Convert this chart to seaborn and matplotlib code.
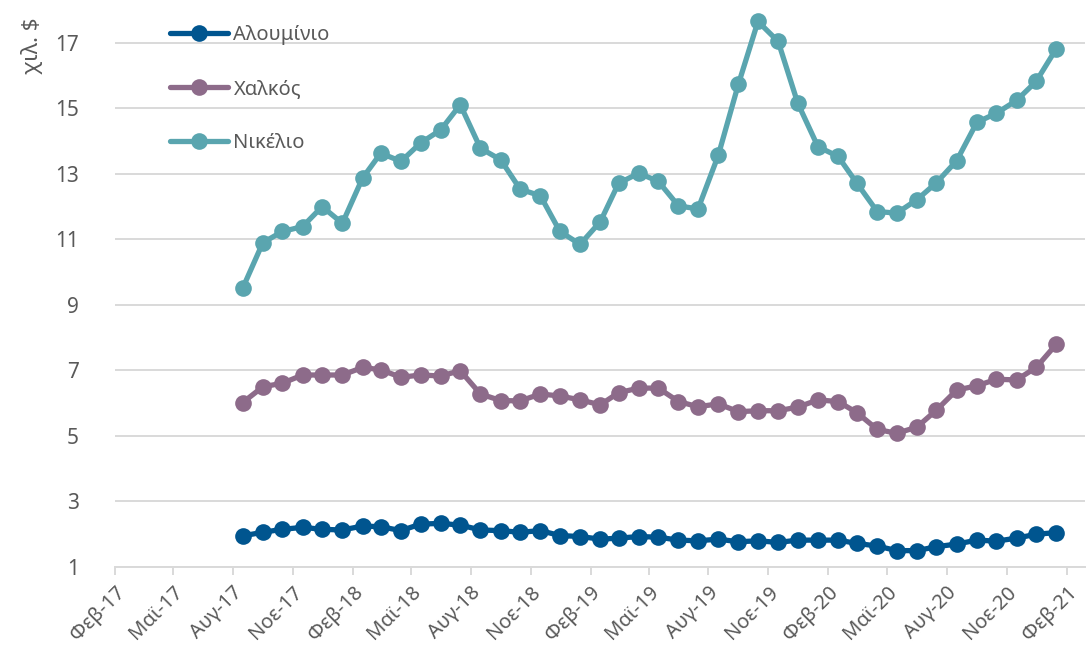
import matplotlib
matplotlib.use("Agg")
import matplotlib.pyplot as plt
import seaborn as sns
import pandas as pd

# --- data (thousand $ per tonne, monthly, Aug-17 .. Jan-21) ---
start_month = "2017-08-01"
aluminium = [1.95, 2.06, 2.15, 2.21, 2.15, 2.13, 2.25, 2.23, 2.11, 2.31, 2.33, 2.28,
             2.13, 2.11, 2.06, 2.11, 1.96, 1.93, 1.85, 1.88, 1.93, 1.91, 1.82, 1.80,
             1.85, 1.77, 1.80, 1.75, 1.82, 1.82, 1.82, 1.72, 1.64, 1.50, 1.50, 1.62,
             1.70, 1.82, 1.79, 1.88, 2.00, 2.05]
copper = [6.02, 6.50, 6.61, 6.86, 6.86, 6.86, 7.09, 7.02, 6.79, 6.86, 6.83, 6.99,
          6.28, 6.08, 6.07, 6.28, 6.22, 6.10, 5.95, 6.32, 6.46, 6.46, 6.05, 5.89,
          5.98, 5.74, 5.77, 5.77, 5.88, 6.10, 6.05, 5.71, 5.20, 5.08, 5.27, 5.79,
          6.40, 6.53, 6.73, 6.71, 7.09, 7.80]
nickel = [9.51, 10.90, 11.24, 11.39, 12.00, 11.49, 12.87, 13.63, 13.38, 13.94, 14.34, 15.11,
          13.78, 13.43, 12.53, 12.33, 11.24, 10.85, 11.54, 12.71, 13.02, 12.77, 12.02, 11.93,
          13.56, 15.74, 17.65, 17.04, 15.16, 13.83, 13.53, 12.71, 11.85, 11.80, 12.21, 12.73,
          13.40, 14.57, 14.85, 15.24, 15.82, 16.82]
series_names = ["Αλουμίνιο", "Χαλκός", "Νικέλιο"]
colors = ["#00558F", "#8D6B8A", "#5AA5AF"]

tick_labels = ["Φεβ-17", "Μαϊ-17", "Αυγ-17", "Νοε-17",
               "Φεβ-18", "Μαϊ-18", "Αυγ-18", "Νοε-18",
               "Φεβ-19", "Μαϊ-19", "Αυγ-19", "Νοε-19",
               "Φεβ-20", "Μαϊ-20", "Αυγ-20", "Νοε-20", "Φεβ-21"]
y_ticks = [1, 3, 5, 7, 9, 11, 13, 15, 17]

# points sit in the middle of each month slot, like Excel's date axis
dates = pd.date_range(start_month, periods=len(nickel), freq="MS") + pd.Timedelta(days=15)
df = pd.DataFrame({
    "date": list(dates) * 3,
    "value": aluminium + copper + nickel,
    "metal": sum([[n] * len(dates) for n in series_names], []),
})

sns.set_theme(style="white")
plt.rcParams["font.family"] = ["Noto Sans", "DejaVu Sans"]
text_color = "#595959"

fig = plt.figure(figsize=(10.87, 6.55), dpi=100)
ax = fig.add_axes([115 / 1087, 88 / 655, 970 / 1087, 557 / 655])

sns.lineplot(data=df, x="date", y="value", hue="metal", hue_order=series_names,
             palette=colors, marker="o", markersize=12, markeredgewidth=0,
             linewidth=3.8, ax=ax)

# axes
ax.set_xlim(pd.Timestamp("2017-02-01"), pd.Timestamp("2021-03-01"))
ax.set_ylim(1, 18)
ax.set_xticks(pd.date_range("2017-02-01", "2021-02-01", freq="3MS"))
ax.set_xticklabels(tick_labels, rotation=45, ha="right", va="top",
                   rotation_mode="anchor")
ax.set_yticks(y_ticks)
ax.set_yticklabels([str(v) for v in y_ticks])
ax.set_xlabel("")
ax.set_ylabel("")
ax.grid(axis="y", color="#D9D9D9", linewidth=1.4)
ax.set_axisbelow(True)
for s in ["top", "right", "left"]:
    ax.spines[s].set_visible(False)
ax.spines["bottom"].set_color("#D9D9D9")
ax.spines["bottom"].set_linewidth(1.4)
ax.tick_params(axis="x", bottom=True, length=6, width=1.4, color="#D9D9D9",
               labelsize=14.5, labelcolor=text_color, pad=5)
ax.tick_params(axis="y", left=False, labelsize=15, labelcolor=text_color, pad=20)

fig.text(32 / 1087, 1 - 46 / 655, "χιλ. $", rotation=90, ha="center", va="center",
         fontsize=16, color=text_color)

leg = ax.legend(loc="upper left", bbox_to_anchor=(170 / 1087, 1 - 25 / 655),
                bbox_transform=fig.transFigure, frameon=False, fontsize=14.5,
                labelspacing=1.7, handlelength=2.9, handletextpad=0.25,
                borderpad=0, borderaxespad=0)
for t in leg.get_texts():
    t.set_color(text_color)

fig.savefig("out.png", dpi=100)
